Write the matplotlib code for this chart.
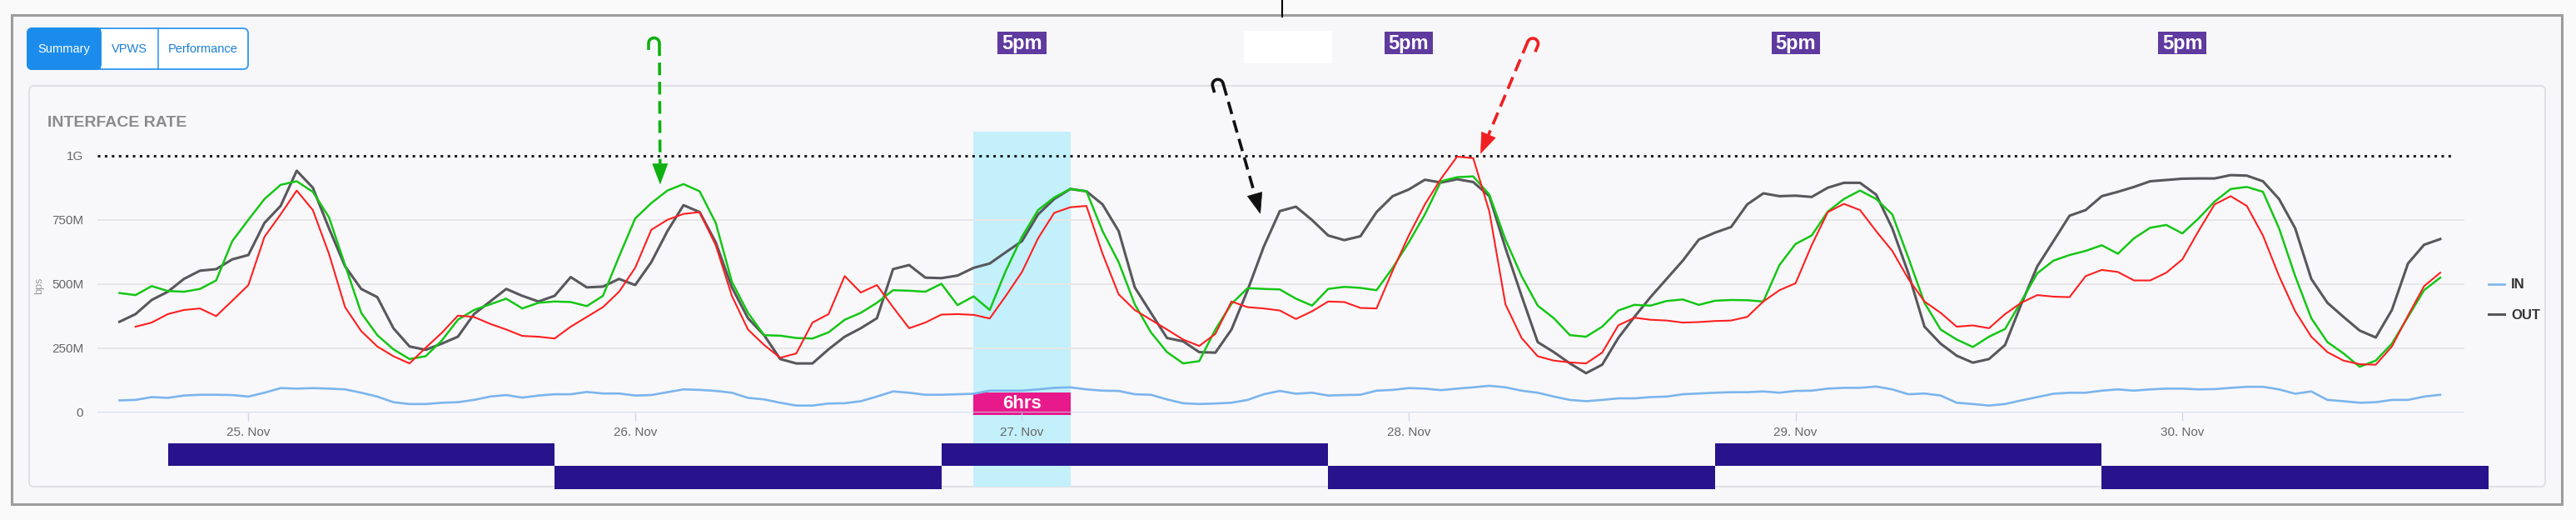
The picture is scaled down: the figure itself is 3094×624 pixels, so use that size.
import numpy as np
import pandas as pd
import matplotlib
matplotlib.use("Agg")
import matplotlib.pyplot as plt
import matplotlib.dates as mdates
from matplotlib.patches import Rectangle, FancyBboxPatch, Polygon
from matplotlib.transforms import blended_transform_factory

FONT = ["Liberation Sans", "DejaVu Sans"]
plt.rcParams["font.family"] = FONT

# hourly samples from 24 Nov 16:00 to 30 Nov 16:00 (values in Mbps)
start = "2020-11-24 16:00"
times = pd.date_range(start, periods=145, freq="h")

in_rate = [
    47, 49, 60, 57, 66, 69, 69, 68, 62, 77, 95, 93,
    95, 93, 90, 77, 62, 40, 33, 33, 38, 40, 49, 62,
    68, 58, 66, 71, 71, 80, 74, 74, 66, 68, 79, 90,
    88, 84, 77, 57, 51, 38, 27, 27, 35, 36, 44, 62,
    82, 77, 69, 69, 71, 73, 85, 85, 85, 90, 96, 98,
    90, 85, 84, 71, 69, 51, 36, 33, 35, 38, 49, 71,
    84, 73, 77, 66, 68, 69, 85, 88, 95, 93, 87, 93,
    98, 104, 98, 85, 77, 62, 49, 44, 49, 55, 55, 60,
    62, 71, 74, 77, 79, 79, 82, 77, 84, 85, 93, 96,
    96, 101, 90, 71, 74, 66, 38, 33, 27, 33, 47, 60,
    73, 77, 77, 85, 90, 85, 90, 93, 93, 90, 91, 96,
    100, 100, 90, 73, 82, 49, 44, 38, 40, 49, 49, 62,
    69,
]
out_rate = [
    353, 383, 438, 470, 520, 552, 558, 596, 613, 738, 804, 941,
    875, 717, 569, 481, 449, 328, 257, 244, 268, 295, 383, 432,
    481, 454, 432, 454, 527, 487, 490, 520, 496, 585, 706, 807,
    780, 662, 487, 367, 301, 208, 191, 191, 246, 295, 328, 367,
    558, 574, 525, 523, 533, 563, 580, 624, 667, 771, 831, 870,
    861, 810, 706, 487, 388, 290, 277, 235, 233, 323, 476, 645,
    784, 801, 749, 689, 671, 686, 780, 842, 868, 906, 895, 908,
    897, 842, 640, 454, 274, 235, 191, 153, 186, 290, 372, 449,
    520, 591, 673, 700, 722, 810, 853, 842, 844, 839, 875, 894,
    894, 848, 717, 542, 334, 268, 221, 194, 208, 263, 421, 569,
    667, 766, 788, 842, 859, 878, 900, 905, 910, 911, 911, 924,
    922, 900, 831, 717, 520, 427, 372, 319, 292, 399, 580, 653,
    675,
]
green_rate = [
    465, 457, 492, 473, 470, 481, 514, 667, 750, 831, 886, 900,
    859, 760, 574, 388, 301, 246, 208, 219, 280, 361, 399, 421,
    443, 405, 427, 432, 430, 414, 454, 607, 755, 815, 864, 889,
    861, 738, 509, 388, 301, 299, 290, 288, 312, 361, 388, 427,
    476, 474, 470, 501, 418, 452, 399, 552, 684, 788, 837, 870,
    861, 706, 585, 421, 312, 235, 191, 200, 323, 423, 484, 481,
    479, 443, 416, 481, 489, 485, 476, 563, 662, 771, 900, 916,
    919, 848, 673, 531, 416, 367, 301, 295, 334, 397, 419, 416,
    434, 440, 419, 435, 438, 437, 432, 574, 656, 689, 782, 831,
    864, 831, 771, 602, 427, 323, 284, 255, 295, 325, 432, 542,
    591, 613, 629, 651, 618, 678, 719, 730, 697, 755, 821, 870,
    878, 859, 717, 531, 367, 274, 230, 178, 202, 268, 372, 476,
    525,
]
red_rate = [
    np.nan, 334, 350, 383, 399, 405, 375, 435, 496, 684, 771, 864,
    788, 618, 410, 317, 257, 219, 191, 252, 310, 377, 372, 345,
    323, 298, 295, 288, 334, 372, 410, 470, 563, 711, 750, 773,
    780, 651, 454, 323, 263, 213, 230, 350, 383, 531, 467, 496,
    410, 328, 350, 381, 383, 380, 366, 454, 547, 678, 777, 799,
    804, 618, 460, 399, 361, 323, 284, 259, 306, 432, 410, 405,
    397, 364, 394, 432, 430, 407, 405, 552, 689, 810, 910, 996,
    990, 782, 421, 290, 219, 202, 195, 191, 233, 339, 369, 361,
    358, 350, 352, 356, 358, 372, 432, 476, 503, 651, 780, 812,
    788, 706, 629, 520, 432, 388, 334, 339, 328, 383, 427, 457,
    451, 449, 531, 555, 547, 514, 514, 544, 596, 706, 810, 842,
    804, 689, 531, 394, 295, 235, 202, 188, 186, 257, 377, 492,
    544,
]

y_ticks = [0, 250, 500, 750, 1000]
y_labels = ["0", "250M", "500M", "750M", "1G"]
capacity = 1000

# alternating day blocks under the chart (19:00 to 19:00)
block_edges = pd.to_datetime([
    "2020-11-24 19:00", "2020-11-25 19:00", "2020-11-26 19:00", "2020-11-27 19:00",
    "2020-11-28 19:00", "2020-11-29 19:00", "2020-11-30 19:00",
])
highlight = ("2020-11-26 21:00", "2020-11-27 03:00")
five_pm_marks = ["2020-11-27", "2020-11-28", "2020-11-29", "2020-11-30"]

W, H = 3094, 624
NAVY = "#28138c"
GRID = "#e6e6e9"


def fig_box(x0, y_top, x1, y_bot):
    return [x0 / W, 1 - y_bot / H, (x1 - x0) / W, (y_bot - y_top) / H]


def num(t):
    return mdates.date2num(pd.Timestamp(t))


fig = plt.figure(figsize=(30.94, 6.24), dpi=100, facecolor="#fafafa")

back = fig.add_axes([0, 0, 1, 1], zorder=0)
back.set_xlim(0, W)
back.set_ylim(H, 0)
back.axis("off")

ax = fig.add_axes(fig_box(117, 186.7, 2989, 495), zorder=2)
ax.patch.set_alpha(0)
strip = fig.add_axes(fig_box(117, 532, 2989, 586.5), sharex=ax, zorder=2)
strip.patch.set_alpha(0)

over = fig.add_axes([0, 0, 1, 1], zorder=6)
over.set_xlim(0, W)
over.set_ylim(H, 0)
over.axis("off")

# --- page / card decoration
back.add_patch(Rectangle((14, 18), 3063, 587, fc="#f7f7fa", ec="#9c9c9c", lw=2.2))
back.add_patch(FancyBboxPatch((35, 103), 3022, 481, boxstyle="round,pad=0,rounding_size=6",
                              fc="#f8f8fb", ec="#e0e0e4", lw=1.4))
back.add_patch(Rectangle((1494, 37), 106, 39, fc="white", ec="none"))
back.plot([1540, 1540], [0, 20], color="black", lw=1.5)

# button group
back.add_patch(FancyBboxPatch((33, 34), 265, 49, boxstyle="round,pad=0,rounding_size=6",
                              fc="white", ec="#3d9df0", lw=1.4))
back.add_patch(FancyBboxPatch((33, 34), 88, 49, boxstyle="round,pad=0,rounding_size=6",
                              fc="#1b8ceb", ec="#1b8ceb", lw=1.4))
back.add_patch(Rectangle((110, 34), 11, 49, fc="#1b8ceb", ec="none"))
back.plot([190, 190], [34, 83], color="#3d9df0", lw=1.2)
back.text(77, 59, "Summary", color="white", fontsize=10.5, ha="center", va="center")
back.text(155.5, 59, "VPWS", color="#1b7fd6", fontsize=10.5, ha="center", va="center")
back.text(244, 59, "Performance", color="#1b7fd6", fontsize=10.5, ha="center", va="center")

back.text(57, 147, "INTERFACE RATE", color="#8c8c8c", fontsize=14, fontweight="bold",
          ha="left", va="center")
back.text(47, 343, "bps", color="#9a9a9a", fontsize=9, rotation=90, ha="center", va="center")

# --- time-series axes
x_left = pd.Timestamp("2020-11-24 14:38")
x_right = pd.Timestamp("2020-11-30 19:00")
ax.set_xlim(x_left, x_right)
ax.set_ylim(0, capacity)
strip.set_ylim(0, 2)

band_tr = blended_transform_factory(ax.transData, back.transData)
b0, b1 = num(highlight[0]), num(highlight[1])
back.add_patch(Rectangle((b0, 158), b1 - b0, 426, transform=band_tr, fc="#c3f0fb", ec="none"))
back.add_patch(Rectangle((b0, 471), b1 - b0, 27, transform=band_tr, fc="#e8198b", ec="none"))
back.text((b0 + b1) / 2, 485, "6hrs", transform=band_tr, color="white", fontsize=16,
          fontweight="bold", ha="center", va="center")

half = 1.5 / 24
for d in five_pm_marks:
    c = num(d)
    back.add_patch(Rectangle((c - half, 38), 2 * half, 27, transform=band_tr,
                             fc="#5f3a9f", ec="none"))
    back.text(c, 52, "5pm", transform=band_tr, color="white", fontsize=17,
              fontweight="bold", ha="center", va="center")

grid_end = num("2020-11-30 17:30")
ax.hlines(y_ticks[1:4], num(x_left), grid_end, color=GRID, lw=1.4, zorder=1)
ax.hlines(0, num(x_left), grid_end, color="#ccd6eb", lw=1.2, zorder=1)
ax.hlines(capacity, num(x_left), num("2020-11-30 16:54"), color="#1e1e1e", lw=2.2,
          linestyles=(0, (1, 1.75)), zorder=3, clip_on=False)

in_line, = ax.plot(times, in_rate, color="#7cb5ec", lw=1.9, zorder=4, clip_on=False)
out_line, = ax.plot(times, out_rate, color="#57575c", lw=2.2, zorder=5, clip_on=False)
ax.plot(times, green_rate, color="#16c616", lw=1.8, zorder=6, clip_on=False)
ax.plot(times, red_rate, color="#ff1f1f", lw=1.5, zorder=7, clip_on=False)

for s in ax.spines.values():
    s.set_visible(False)
ax.set_yticks(y_ticks)
ax.set_yticklabels(y_labels)
ax.xaxis.set_major_locator(mdates.DayLocator())
ax.xaxis.set_major_formatter(mdates.DateFormatter("%d. %b"))
ax.tick_params(axis="y", length=0, pad=12, labelsize=11, labelcolor="#666666")
ax.tick_params(axis="x", length=7, width=1, color="#ccd6eb", pad=5, labelsize=11,
               labelcolor="#666666")

for i in range(len(block_edges) - 1):
    row = 1 if i % 2 == 0 else 0
    e0, e1 = mdates.date2num(block_edges[i]), mdates.date2num(block_edges[i + 1])
    strip.broken_barh([(e0, e1 - e0)], (row, 1), facecolors=NAVY)
strip.axis("off")

ax.legend([in_line, out_line], ["IN", "OUT"], loc="upper left", bbox_to_anchor=(2981, 326),
          bbox_transform=back.transData, frameon=False, borderpad=0, handlelength=1.1,
          handletextpad=0.5, labelspacing=1.3,
          prop=dict(family=FONT, weight="bold", size=12), labelcolor="#333333")


# --- hand drawn call-out arrows
def to_px(t, v):
    disp = ax.transData.transform((num(t), v))
    return over.transData.inverted().transform(disp)


def hooked_arrow(tail, tip, color, side):
    x0, y0 = tail
    x1, y1 = tip
    dist = np.hypot(x1 - x0, y1 - y0)
    ux, uy = (x1 - x0) / dist, (y1 - y0) / dist
    px, py = -uy, ux
    bx, by = x1 - ux * 24, y1 - uy * 24
    over.plot([x0, bx], [y0, by], color=color, lw=2.6, ls=(0, (4.2, 2.2)))
    over.add_patch(Polygon([(x1, y1), (bx + px * 9, by + py * 9), (bx - px * 9, by - py * 9)],
                           closed=True, fc=color, ec=color, lw=0.5))
    r = 6.5
    cx, cy = x0 + side * r * px, y0 + side * r * py
    t = np.linspace(0, np.pi, 40)
    hx = cx - side * r * px * np.cos(t) - r * ux * np.sin(t)
    hy = cy - side * r * py * np.cos(t) - r * uy * np.sin(t)
    hx = np.append(hx, hx[-1] + ux * 6)
    hy = np.append(hy, hy[-1] + uy * 6)
    over.plot(hx, hy, color=color, lw=2.6)


hooked_arrow((792, 52), to_px("2020-11-26 01:33", 890), "#10b010", 1)
hooked_arrow((1469, 100), to_px("2020-11-27 14:47", 775), "#111111", 1)
hooked_arrow((1835, 50), to_px("2020-11-28 04:28", 1009), "#f02020", -1)

fig.savefig("out.png", dpi=100, facecolor=fig.get_facecolor())
